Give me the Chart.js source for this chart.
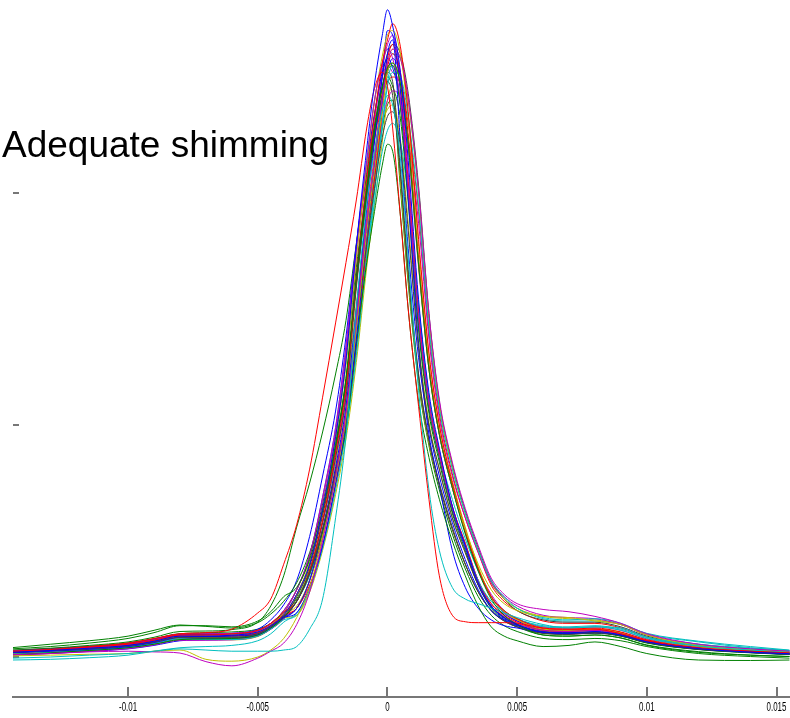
<!DOCTYPE html>
<html>
<head>
<meta charset="utf-8">
<script src="https://cdn.jsdelivr.net/npm/chart.js@4.4.1/dist/chart.umd.min.js"></script>
<style>
  body { margin: 0; background: #fff; }
  #wrap { position: relative; width: 790px; height: 718px; }
  #title {
    position: absolute; left: 2px; top: 126px;
    font: 37px/37px "Liberation Sans", Arial, sans-serif;
    color: #000; white-space: nowrap;
  }
</style>
</head>
<body>
<div id="wrap">
  <canvas id="chart" width="790" height="718"></canvas>
  <div id="title">Adequate shimming</div>
</div>
<script>
// x positions (ppm offset) shared by every spectrum
const xValues = [-0.0145, -0.013, -0.0115, -0.010, -0.009, -0.008, -0.007, -0.006, -0.005, -0.0045,
  -0.004, -0.0035, -0.003, -0.0025, -0.002, -0.0016, -0.0012, -0.0008, -0.0005, -0.0002,
  0, 0.0002, 0.0005, 0.0008, 0.0012, 0.0016, 0.002, 0.0025, 0.003, 0.0035,
  0.004, 0.0045, 0.005, 0.006, 0.007, 0.008, 0.009, 0.010, 0.012, 0.014, 0.0155];

const xTickValues = [-0.01, -0.005, 0, 0.005, 0.01, 0.015];
const xTickLabels = ['-0.01', '-0.005', '0', '0.005', '0.01', '0.015'];
const yTickValues = [0, 100, 200];

// one array per acquisition
const spec01 = [2.0,2.8,3.8,5.0,6.8,9.0,9.0,9.4,10.8,13.5,18, 27,40,64,95,128,177,219,247,268, 279,272, 252,214,154,114,90,65,48,32,22, 17,14,10.8,10.4,11,9.4,6.5,3.6,2.1,1.4];
const spec02 = [3.5,4.5,6.0,8.0,10.5,13.5,13.5,13.0,15.5,19.5,26, 30,42,63,91,120,164,202,227,246, 254,256, 247,221,169,124,96,73,53,37,25, 18,14,9.5,9.0,9.5,8.2,5.0,2.0,0.8,0.2];
const spec03 = [2.5,3.2,4.5,6.0,8.0,10.0,10.5,12,19,25,40, 57,81,112,144,170,197,228,245,252, 246,228, 190,150,108,68,35,18,15.2,14.8,14.8, 14.8,14.5,12.5,12,12,10,7,3.8,2.5,1.8];
const spec04 = [-0.5,0,0.8,1.5,2.5,3.5,3.0,2.5,2.5,2.5,3.0, 4.5,12,25,60,95,150,195,218,236, 242,238, 215,172,115,72,46,30,25,23,21, 19,17,14,12.5,13,12.5,8.5,4.8,3.0,2.0];
const spec05 = [1.0,1.5,2.2,2.5,2.2,1.7,-2.0,-3.8,-0.5,2.5,6, 14,28,50,78,105,145,187,214,241, 256,262, 258,241,201,148,111,84,64,48,34, 27,23,20.5,19.5,17.5,14.5,10,5.5,3.5,2.5];
const spec06 = [0.5,0.8,1.2,1.5,2.5,3.0,-1.0,-1.8,0.0,3.0,8, 17,30,51,77,103,142,183,210,236, 252,256, 247,221,169,124,96,73,55,40,29, 23,20,17.5,17,15.5,14,9.5,5.0,3.2,2.2];
const spec07 = [2.0,2.8,3.5,4.8,6.5,8.5,8.5,8.5,10,13,17.5, 24,36,55,80,102,142,178,202,224, 233,235, 220,184,133,100,81,60,45,31,22, 17,14,11,10.5,10.5,9.5,6.5,3.5,2.2,1.5];
const spec08 = [1.8,2.5,3.3,4.5,6.2,8.5,8.8,9,10,13,17, 19,30,48,75,101,137,181,211,240, 260,266, 222,176,129,99,78,58,42,29,20, 16,13.5,10.8,10.3,10.5,9.5,6.8,3.8,2.2,1.5];
const spec09 = [1.0,1.8,2.8,4.0,5.5,7.5,7.8,8.0,9.5,12.5,17, 24,36,54,78,98,135,170,192,212, 221,218, 190,150,110,86,68,50,35,22,13, 9,7,4.5,5.0,6.5,4.5,1.5,-1.3,-1.5,-1.3];
const spec10 = [2.2,3.0,4.2,5.5,7.2,9.5,9.5,10,11.5,14.5,19.5, 24,37,59,88,116,164,206,233,256, 266,273, 263,235,180,131,100,75,55,38,26, 20,16.5,12.5,12,12.5,10.8,7.4,4.0,2.5,1.7];
const spec11 = [1.2,2.0,3.0,4.2,5.8,7.8,7.5,7.5,9,12,16, 18,29,47,72,97,130,172,200,228, 246,252, 250,233,194,142,107,81,62,46,33, 26,21,17,16,16.5,14.5,10,6.5,4.0,2.8];
const spec12 = [2.5,3.2,4.2,5.5,7.5,9.8,10,10.2,11.5,14.5,20, 29,44,69,99,134,177,214,240,256, 262,258, 240,202,146,109,87,64,48,32,22, 17.5,14.5,11.5,11,11.5,10,7,3.8,2.4,1.6];
const spec13 = [1.5,2.2,3.2,4.5,6.2,8.2,8.4,8.6,10,13,18, 27,41,64,95,126,172,212,239,259, 268,270, 260,232,177,130,100,76,56,39,26, 19.5,16,12,11.5,12,10.5,7.3,4.2,2.6,1.7];
const spec14 = [2.8,3.6,4.6,6.0,7.8,10,10,10,11.5,14.5,20, 29,43,66,94,127,168,203,228,242, 248,242, 208,165,121,93,74,55,40,28,20, 15.5,13,10.2,9.8,10.5,9.2,6.3,3.4,2.0,1.2];
const spec15 = [1.5,2.2,3.0,4.2,6.0,8.0,8.2,8.2,9.5,12.5,17, 21,33,55,82,108,150,193,222,250, 270,268, 244,198,135,96,74,46,30,21,16, 13.5,12.5,10.5,10.2,10.8,9.5,6.5,3.5,2.0,1.2];
const spec16 = [4.0,5.5,7.0,9.0,11.5,13.8,13.2,12.5,14.8,18.5,24, 32,45,64,92,120,163,201,227,246, 253,255, 237,199,143,107,86,63,48,32,22, 17,14,10.5,10,10.5,9,6,3.2,1.8,1.0];
const spec17 = [2.0,2.8,3.8,5.0,6.8,9.0,9.0,9.2,10.5,13.5,18, 21,31,48,74,99,134,177,206,235, 254,260, 252,225,172,126,97,74,54,38,26, 19.5,16,12,11.5,12,10.5,7.2,4.0,2.4,1.5];
const spec18 = [-1.3,-1.0,-0.3,0.8,2.5,4.0,4.5,5.0,7.0,10,15, 19,30,48,74,98,132,174,202,230, 248,255, 238,200,144,108,86,64,48,33,24, 19.5,16.5,13.5,13,13.5,12,8.5,5.5,3.8,2.8];
const spec19 = [0.8,1.5,2.5,3.6,5.2,7.2,7.2,7.4,9,12,16.5, 24,36,55,80,104,147,184,208,231, 240,244, 241,224,187,137,103,78,60,45,32, 26,22,18,17,16.5,14,9.5,5.5,3.5,2.4];
const spec20 = [2.2,3.0,4.0,5.2,7.0,9.0,9.2,9.5,10.8,13.8,18.5, 22,33,53,79,105,145,187,214,241, 256,262, 258,240,200,146,109,82,62,46,32, 25,21,17.5,16.5,16,14,9.5,5.0,3.2,2.2];
const spec21 = [1.6,2.4,3.4,4.6,6.2,8.2,8.2,8.5,10,13,17.5, 26,39,61,89,118,161,199,224,242, 252,248, 210,167,122,94,75,56,40,28,20, 15.5,13,10.2,9.8,10.2,9,6.2,3.3,1.9,1.1];
const spec22 = [2.4,3.2,4.3,5.6,7.4,9.6,9.8,10.2,12,16,22.5, 33,52,78,106,138,178,212,234,252, 258,254, 238,200,144,108,86,63,47,31,21.5, 16.5,13.8,10.5,10,10.5,9.2,6.2,3.3,1.9,1.1];
const spec23 = [3.0,3.8,5.0,6.5,8.5,11,11.2,11.8,15,22,35, 56,75,97,122,145,178,208,229,245, 250,246, 232,196,141,105,84,62,46,31,21, 16,13,9.5,9,9.5,8.2,5.2,2.3,0.8,0.2];
const spec24 = [1.2,2.0,3.0,4.2,5.8,8.0,8.2,8.4,9.8,12.8,17.5, 21,33,53,80,106,147,189,216,244, 258,264, 245,205,148,110,88,65,49,33,23, 18,15,11.5,11,11.5,10,7,3.8,2.3,1.5];
const spec25 = [1.8,2.6,3.6,4.8,6.5,8.5,8.3,8.3,9.6,12.5,17, 24,35,53,77,99,138,173,196,218, 227,230, 222,198,152,112,88,68,51,37,26, 20,16.5,13,12.5,13,11.5,8,4.6,3.0,2.0];
const spec26 = [2.6,3.4,4.5,5.8,7.6,9.8,9.8,10,11.2,14.2,19, 29,44,68,97,131,173,209,234,250, 255,252, 246,219,168,124,96,73,54,38,27, 20,16.5,13,12.5,13,11.5,7.8,4.3,2.8,1.9];
const spec27 = [1.0,1.8,2.8,4.0,5.6,7.6,7.6,7.8,9.2,12.2,16.8, 18,28,46,70,94,127,168,195,222, 240,246, 205,163,120,92,74,55,40,28,20, 16,13.5,11,10.5,11,9.8,6.8,3.8,2.4,1.6];
const spec28 = [2.2,3.0,4.0,5.3,7.0,9.2,9.2,9.4,10.6,13.6,18.4, 24,37,58,86,112,159,199,226,250, 260,264, 260,243,203,148,110,83,63,47,33, 25,20,16,15,15,13,9,5,3.0,2.0];
const spec29 = [0.8,1.5,2.4,3.5,5.0,7.0,7.4,7.8,9.2,12,16.5, 21,33,52,78,104,143,184,211,238, 252,258, 250,223,170,125,96,73,54,38,26, 19,15.5,12,11.5,12,10.5,7,3.6,2.0,1.2];
const spec30 = [2.6,3.4,4.6,6.0,7.8,10,10.5,10.8,12,14.5,19, 25,37,55,80,103,145,182,206,228, 238,240, 202,161,118,91,72,53,38,26,18, 13.5,11,8,7.5,8,7,4.5,1.5,0.2,-0.5];
const spec31 = [1.6,2.4,3.4,4.6,6.4,8.6,8.8,9,10.4,13.4,18.2, 27,40,62,90,118,161,198,223,242, 248,250, 247,230,192,140,105,79,60,45,31, 24,20,15.5,14.5,14.5,12.5,8.5,4.5,2.8,1.8];
const spec32 = [1.5,2.3,3.3,4.5,6.2,8.3,8.3,8.6,10.2,13.6,19, 29,44,69,99,134,177,214,240,256, 262,260, 258,240,200,146,109,82,62,46,32, 25,21,16.5,15.5,15.5,14,10.2,6.8,4.5,3.0];
const spec33 = [2.4,3.2,4.3,5.6,7.4,9.6,9.6,9.8,11,14,19, 24,37,58,86,114,162,203,230,254, 264,268, 249,209,150,112,89,65,49,33,23, 18.5,15.5,12,11.5,12,10.5,7.2,4,2.5,1.7];
const spec34 = [1.2,1.9,2.9,4.1,5.8,7.8,7.6,7.4,8.8,12,16.5, 26,38,58,84,111,152,187,211,230, 236,238, 223,187,135,101,81,60,45,31,22, 17.5,14.5,11.5,11,11.5,10,6.8,3.8,2.4,1.6];

const allSpectra = [spec01, spec02, spec03, spec04, spec05, spec06, spec07, spec08, spec09, spec10,
  spec11, spec12, spec13, spec14, spec15, spec16, spec17, spec18, spec19, spec20,
  spec21, spec22, spec23, spec24, spec25, spec26, spec27, spec28, spec29, spec30,
  spec31, spec32, spec33, spec34];

// matlab style colour order b g r c m y k
const lineColors = ['#0000ff', '#008000', '#ff0000', '#00bfbf', '#bf00bf', '#bfbf00', '#404040'];

const axisGray = '#777777';

// ticks pointing into the plot + narrow tick labels, like the original figure
const matlabAxis = {
  id: 'matlabAxis',
  beforeDatasetsDraw(chart) {
    const { ctx, chartArea, scales } = chart;
    ctx.save();
    ctx.strokeStyle = axisGray;
    ctx.lineWidth = 2;
    ctx.beginPath();
    xTickValues.forEach(v => {
      const px = Math.round(scales.x.getPixelForValue(v));
      ctx.moveTo(px, chartArea.bottom);
      ctx.lineTo(px, chartArea.bottom - 10);
    });
    yTickValues.forEach(v => {
      const py = Math.round(scales.y.getPixelForValue(v));
      ctx.moveTo(chartArea.left, py);
      ctx.lineTo(chartArea.left + 6, py);
    });
    ctx.stroke();
    ctx.restore();
  },
  afterDraw(chart) {
    const { ctx, chartArea, scales } = chart;
    ctx.save();
    ctx.fillStyle = '#000';
    ctx.font = '12px "Liberation Sans", Arial, sans-serif';
    ctx.textAlign = 'center';
    ctx.textBaseline = 'middle';
    xTickValues.forEach((v, i) => {
      const px = scales.x.getPixelForValue(v);
      ctx.save();
      ctx.translate(px, chartArea.bottom + 11);
      ctx.scale(0.66, 1);
      ctx.fillText(xTickLabels[i], 0, 0);
      ctx.restore();
    });
    ctx.restore();
  }
};

const datasets = allSpectra.map((vals, i) => ({
  data: xValues.map((x, j) => ({ x: x, y: vals[j] })),
  borderColor: lineColors[i % lineColors.length],
  borderWidth: 1,
  pointRadius: 0,
  fill: false,
  cubicInterpolationMode: 'monotone'
}));

new Chart(document.getElementById('chart'), {
  type: 'line',
  data: { datasets: datasets },
  plugins: [matlabAxis],
  options: {
    responsive: false,
    devicePixelRatio: 1,
    animation: false,
    layout: { padding: { left: 13, right: 0, top: 0, bottom: 0 } },
    plugins: { legend: { display: false }, tooltip: { enabled: false } },
    scales: {
      x: {
        type: 'linear',
        min: -0.014437,
        max: 0.01552,
        afterBuildTicks: s => { s.ticks = xTickValues.map(v => ({ value: v })); },
        afterFit: s => { s.height = 21; s.paddingLeft = 0; s.paddingRight = 0; },
        border: { display: true, color: axisGray, width: 2 },
        grid: { display: false, drawTicks: false },
        ticks: { display: false }
      },
      y: {
        display: false,
        min: -17.24,
        max: 283.2
      }
    }
  }
});
</script>
</body>
</html>
